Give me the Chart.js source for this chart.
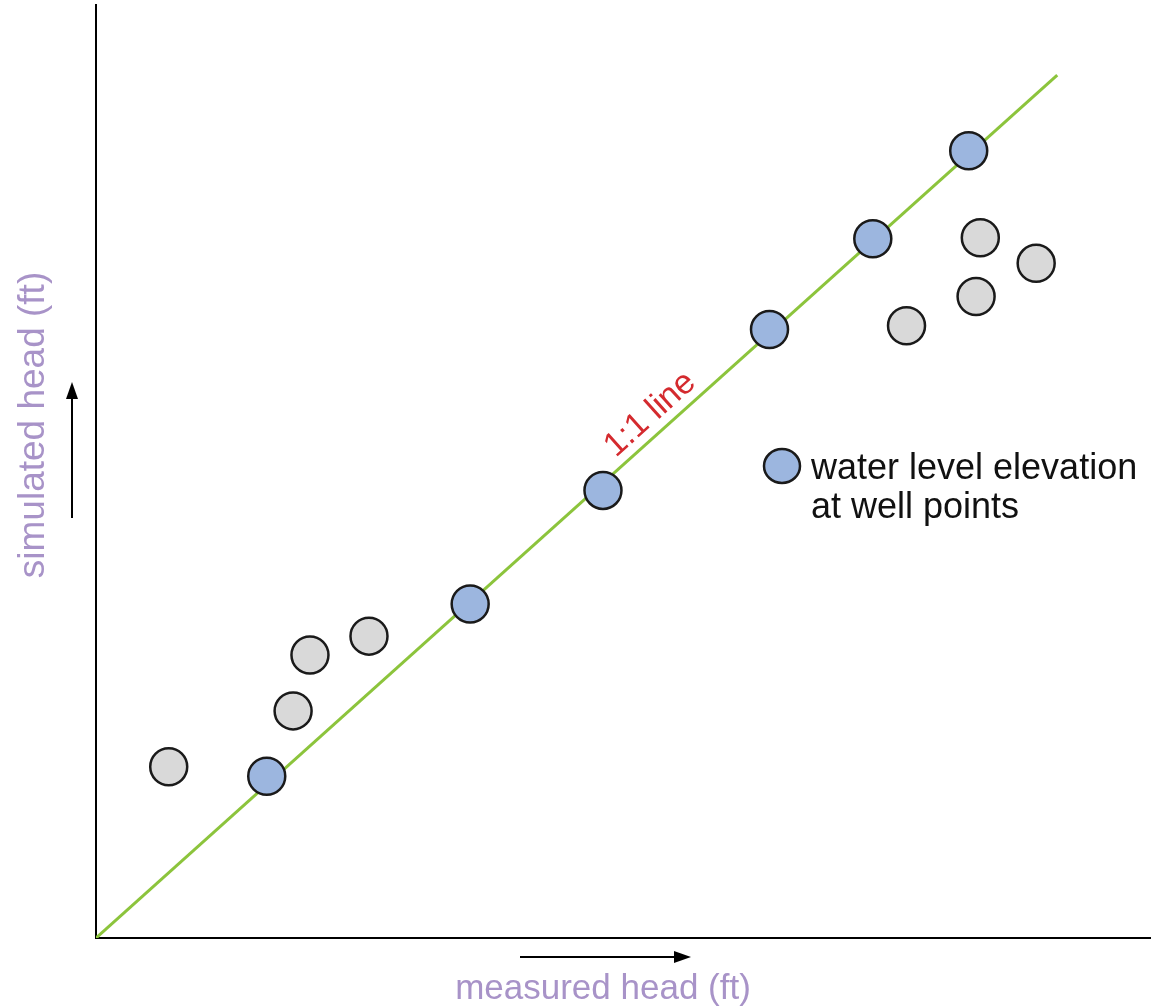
<!DOCTYPE html>
<html>
<head>
<meta charset="utf-8">
<script src="https://cdn.jsdelivr.net/npm/chart.js@4"></script>
<style>
html,body{margin:0;padding:0;background:#fff;}
#wrap{width:1153px;height:1008px;position:relative;}
</style>
</head>
<body>
<div id="wrap"><canvas id="c" width="1153" height="1008"></canvas></div>
<script>
// Data (arbitrary head units, 1:1 scale)
const wellMeasured = [16.2, 35.5, 48.1, 63.9, 73.7, 82.8];
const wellSimulated = [17.1, 35.3, 47.3, 64.3, 73.9, 83.2];
const otherMeasured = [6.9, 18.7, 20.3, 25.9, 76.9, 83.5, 83.9, 89.2];
const otherSimulated = [18.1, 24.0, 29.9, 31.9, 64.7, 67.8, 74.0, 71.3];
const oneToOne = [0, 91.2];
const xTitle = 'measured head (ft)';
const yTitle = 'simulated head (ft)';
const legendLines = ['water level elevation', 'at well points'];
const lineLabel = '1:1 line';

const FONT = 'Arial, "Liberation Sans", sans-serif';
const PURPLE = '#a893c8';

const overlay = {
  id: 'overlay',
  afterDraw(chart) {
    const ctx = chart.ctx;
    const xs = chart.scales.x, ys = chart.scales.y;
    ctx.save();
    // axis titles
    ctx.fillStyle = PURPLE;
    ctx.font = '35px ' + FONT;
    ctx.textAlign = 'center';
    ctx.textBaseline = 'alphabetic';
    ctx.fillText(xTitle, 603, 999);
    ctx.save();
    ctx.translate(44, 425);
    ctx.rotate(-Math.PI / 2);
    ctx.font = '37px ' + FONT;
    ctx.fillText(yTitle, 0, 0);
    ctx.restore();
    // arrows
    ctx.strokeStyle = '#000';
    ctx.fillStyle = '#000';
    ctx.lineWidth = 2;
    ctx.beginPath(); ctx.moveTo(520, 957); ctx.lineTo(676, 957); ctx.stroke();
    ctx.beginPath(); ctx.moveTo(691, 957); ctx.lineTo(674, 951); ctx.lineTo(674, 963); ctx.closePath(); ctx.fill();
    ctx.beginPath(); ctx.moveTo(72, 518); ctx.lineTo(72, 396); ctx.stroke();
    ctx.beginPath(); ctx.moveTo(72, 382); ctx.lineTo(66, 399); ctx.lineTo(78, 399); ctx.closePath(); ctx.fill();
    // 1:1 label
    const x0 = xs.getPixelForValue(0), y0 = ys.getPixelForValue(0);
    const x1 = xs.getPixelForValue(oneToOne[1]), y1 = ys.getPixelForValue(oneToOne[1]);
    const ang = Math.atan2(y1 - y0, x1 - x0);
    const t = 0.59;
    const cx = x0 + (x1 - x0) * t, cy = y0 + (y1 - y0) * t;
    ctx.save();
    ctx.translate(cx, cy);
    ctx.rotate(ang);
    ctx.fillStyle = '#d42a2e';
    ctx.font = '34px ' + FONT;
    ctx.textAlign = 'center';
    ctx.textBaseline = 'alphabetic';
    ctx.fillText(lineLabel, 0, -10);
    ctx.restore();
    // legend
    ctx.beginPath();
    ctx.ellipse(782, 466, 18, 17, 0, 0, Math.PI * 2);
    ctx.fillStyle = '#9cb6df';
    ctx.fill();
    ctx.lineWidth = 2.5;
    ctx.strokeStyle = '#1a1a1a';
    ctx.stroke();
    ctx.fillStyle = '#111';
    ctx.font = '36px ' + FONT;
    ctx.textAlign = 'left';
    ctx.fillText(legendLines[0], 811, 479);
    ctx.fillText(legendLines[1], 811, 518);
    ctx.restore();
  }
};

const toPts = (xa, ya) => xa.map((v, i) => ({x: v, y: ya[i]}));

new Chart(document.getElementById('c'), {
  type: 'scatter',
  data: {
    datasets: [
      {
        label: 'water level elevation at well points',
        data: toPts(wellMeasured, wellSimulated),
        backgroundColor: '#9cb6df',
        borderColor: '#1a1a1a',
        borderWidth: 2.5,
        pointRadius: 18.5,
        order: 0
      },
      {
        label: 'other',
        data: toPts(otherMeasured, otherSimulated),
        backgroundColor: '#d9d9d9',
        borderColor: '#1a1a1a',
        borderWidth: 2.5,
        pointRadius: 18.5,
        order: 1
      },
      {
        label: '1:1 line',
        type: 'line',
        data: toPts(oneToOne, oneToOne),
        borderColor: '#8cc43c',
        borderWidth: 3,
        pointRadius: 0,
        fill: false,
        order: 5
      }
    ]
  },
  options: {
    responsive: false,
    animation: false,
    devicePixelRatio: 1,
    layout: {autoPadding: false, padding: {left: 96, right: 3, top: 5, bottom: 70}},
    plugins: {legend: {display: false}, tooltip: {enabled: false}},
    scales: {
      x: {
        type: 'linear', min: 0, max: 100,
        grid: {display: false, drawTicks: false},
        ticks: {display: false},
        border: {display: true, color: '#000', width: 2}
      },
      y: {
        type: 'linear', min: 0, max: 98.6,
        grid: {display: false, drawTicks: false},
        ticks: {display: false},
        border: {display: true, color: '#000', width: 2}
      }
    }
  },
  plugins: [overlay]
});
</script>
</body>
</html>
